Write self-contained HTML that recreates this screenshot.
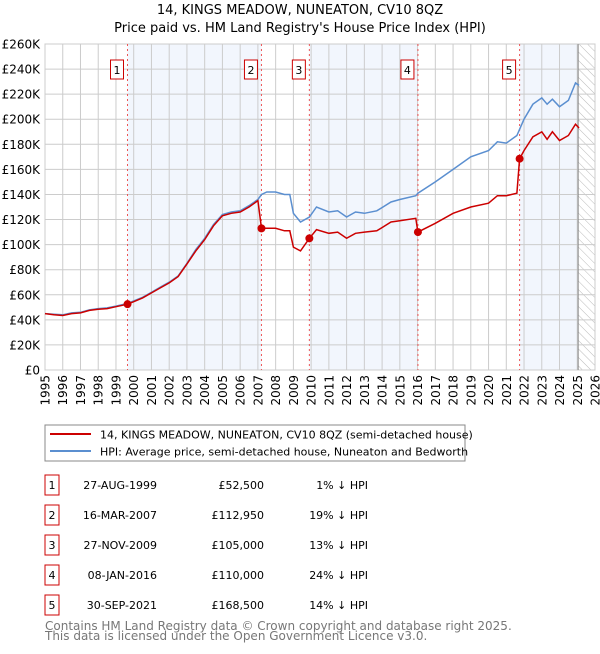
<!DOCTYPE html>
<html><head><meta charset="utf-8"><style>
body{margin:0;background:#fff;font-family:"DejaVu Sans","Liberation Sans",sans-serif;}
svg text{font-family:"DejaVu Sans","Liberation Sans",sans-serif;}
</style></head><body>
<svg id="chart" width="600" height="650" xmlns="http://www.w3.org/2000/svg">
<defs><pattern id="hatch" width="6" height="6" patternUnits="userSpaceOnUse" patternTransform="rotate(-45)"><line x1="0" y1="0" x2="0" y2="6" stroke="#bbb" stroke-width="1"/></pattern></defs>
<text x="300" y="14" text-anchor="middle" font-size="13">14, KINGS MEADOW, NUNEATON, CV10 8QZ</text>
<text x="300" y="32" text-anchor="middle" font-size="13">Price paid vs. HM Land Registry's House Price Index (HPI)</text>
<g id="plot"></g>
<g>
<rect x="45" y="425" width="420" height="36" fill="#fff" stroke="#888"/>
<line x1="50" y1="434" x2="91" y2="434" stroke="#cc0000" stroke-width="2"/>
<text x="100" y="438.5" font-size="11">14, KINGS MEADOW, NUNEATON, CV10 8QZ (semi-detached house)</text>
<line x1="50" y1="451" x2="91" y2="451" stroke="#5b8fd0" stroke-width="2"/>
<text x="100" y="455.5" font-size="11">HPI: Average price, semi-detached house, Nuneaton and Bedworth</text>
</g>
<g id="table" font-size="11"></g>
<text x="45" y="630" font-size="12" fill="#777">Contains HM Land Registry data © Crown copyright and database right 2025.</text>
<text x="45" y="640" font-size="12" fill="#777">This data is licensed under the Open Government Licence v3.0.</text>
</svg>
<script>
const yTicks=[0,20000,40000,60000,80000,100000,120000,140000,160000,180000,200000,220000,240000,260000];
const yLabels=["£0","£20K","£40K","£60K","£80K","£100K","£120K","£140K","£160K","£180K","£200K","£220K","£240K","£260K"];
const xYears=[1995,1996,1997,1998,1999,2000,2001,2002,2003,2004,2005,2006,2007,2008,2009,2010,2011,2012,2013,2014,2015,2016,2017,2018,2019,2020,2021,2022,2023,2024,2025,2026];
const hpiT=[1995,1995.5,1996,1996.5,1997,1997.5,1998,1998.5,1999,1999.65,2000,2000.5,2001,2001.5,2002,2002.5,2003,2003.5,2004,2004.5,2005,2005.5,2006,2006.5,2007,2007.2,2007.5,2008,2008.5,2008.8,2009,2009.4,2009.9,2010.3,2011,2011.5,2012,2012.5,2013,2013.7,2014.5,2015,2015.9,2016.02,2017,2018,2019,2020,2020.5,2021,2021.6,2021.75,2022,2022.5,2023,2023.3,2023.6,2024,2024.5,2024.9,2025.1];
const hpiV=[45000,44500,44000,45500,46000,48000,49000,49500,51000,53000,55000,58000,62000,66000,70000,75000,85000,96000,105000,116000,124000,126000,127000,131000,136000,140000,142000,142000,140000,140000,125000,118000,122000,130000,126000,127000,122000,126000,125000,127000,134000,136000,139000,141000,150000,160000,170000,175000,182000,181000,187000,192000,200000,212000,217000,212000,216000,210000,215000,229000,227000];
const redV=[45000,44000,43500,45000,45500,47500,48500,49000,50500,52500,54500,57500,61500,65500,69500,74500,84500,95000,104000,115000,123000,125000,126000,130000,135000,112950,113000,113000,111000,111000,98000,95000,105000,112000,109000,110000,105000,109000,110000,111000,118000,119000,121000,110000,117000,125000,130000,133000,139000,139000,141000,168500,175000,186000,190000,184000,190000,183000,187000,196000,193000];
const saleT=[1999.65,2007.2,2009.9,2016.02,2021.75];
const saleV=[52500,112950,105000,110000,168500];
const saleDates=["27-AUG-1999","16-MAR-2007","27-NOV-2009","08-JAN-2016","30-SEP-2021"];
const salePrices=["£52,500","£112,950","£105,000","£110,000","£168,500"];
const salePct=["1% ↓ HPI","19% ↓ HPI","13% ↓ HPI","24% ↓ HPI","14% ↓ HPI"];
const X0=45,X1=595,Y0=370,Y1=44;
const xs=t=>X0+(t-1995)/(2026-1995)*(X1-X0);
const ys=v=>Y0-v/260000*(Y0-Y1);
const NS="http://www.w3.org/2000/svg";
const plot=document.getElementById('plot');
function mk(tag,attrs,parent){const e=document.createElementNS(NS,tag);for(const k in attrs)e.setAttribute(k,attrs[k]);(parent||plot).appendChild(e);return e;}
for(let i=0;i<saleT.length;i+=2){
 const a=saleT[i],b=i+1<saleT.length?saleT[i+1]:2025.05;
 const r=mk('rect',{x:xs(a),y:Y1,width:xs(b)-xs(a),height:Y0-Y1,fill:'#f2f6fd'});
 
 
}
const hz=mk('rect',{x:xs(2025.05),y:Y1,width:X1-xs(2025.05),height:Y0-Y1,fill:'url(#hatch)'});


yTicks.forEach((v,i)=>{
 const l=mk('line',{x1:X0,x2:X1,y1:ys(v),y2:ys(v),stroke:'#ccc','stroke-width':1});
 
 
 const t=mk('text',{x:40,y:ys(v)+4.5,'text-anchor':'end','font-size':12});
 
 
 t.textContent=yLabels[i];
});
xYears.forEach(yr=>{
 const l=mk('line',{x1:xs(yr),x2:xs(yr),y1:Y1,y2:Y0,stroke:'#ccc','stroke-width':1});
 
 
 const tx=xs(yr)+4.5,ty=375;
 const t=mk('text',{x:tx,y:ty,'text-anchor':'end','font-size':12,transform:'rotate(-90 '+tx+' '+ty+')'});
 
 
 t.textContent=yr;
});
const bx=mk('rect',{x:X0,y:Y1,width:X1-X0,height:Y0-Y1,fill:'none',stroke:'#ccc'});


const nl=mk('line',{x1:xs(2025.05),x2:xs(2025.05),y1:Y1,y2:Y0,stroke:'#888'});


saleT.forEach((t,i)=>{
 const l=mk('line',{x1:xs(t),x2:xs(t),y1:Y1,y2:Y0,stroke:'#e55','stroke-width':1,'stroke-dasharray':'2,3'});
 
 
 const bxx=mk('rect',{x:xs(t)-17,y:60,width:13,height:19,fill:'#fff',stroke:'#cc0000'});
 
 
 const tx=mk('text',{x:xs(t)-10.5,y:74,'text-anchor':'middle','font-size':11});
 
 
 tx.textContent=i+1;
});
const hp=mk('path',{d:hpiT.map((t,i)=>(i?'L':'M')+xs(t).toFixed(1)+','+ys(hpiV[i]).toFixed(1)).join(''),fill:'none',stroke:'#5b8fd0','stroke-width':1.5});


const rp=mk('path',{d:hpiT.map((t,i)=>(i?'L':'M')+xs(t).toFixed(1)+','+ys(redV[i]).toFixed(1)).join(''),fill:'none',stroke:'#cc0000','stroke-width':1.5});


saleT.forEach((t,i)=>{
 const c=mk('circle',{cx:xs(t),cy:ys(saleV[i]),r:4,fill:'#cc0000'});
 
 
});
const tb=document.getElementById('table');
saleT.forEach((t,i)=>{
 const y=487+i*30;
 const r=mk('rect',{x:45,y:y-12,width:14,height:20,fill:'#fff',stroke:'#cc0000'},tb);
 
 
 const cols=[[52,'middle',String(i+1)],[157,'end',saleDates[i]],[264,'end',salePrices[i]],[368,'end',salePct[i]]];
 cols.forEach((c,j)=>{
  const tx=mk('text',{x:c[0],y:y+2,'text-anchor':c[1]},tb);
  
  
  tx.textContent=c[2];
 });
});
</script>
</body></html>
